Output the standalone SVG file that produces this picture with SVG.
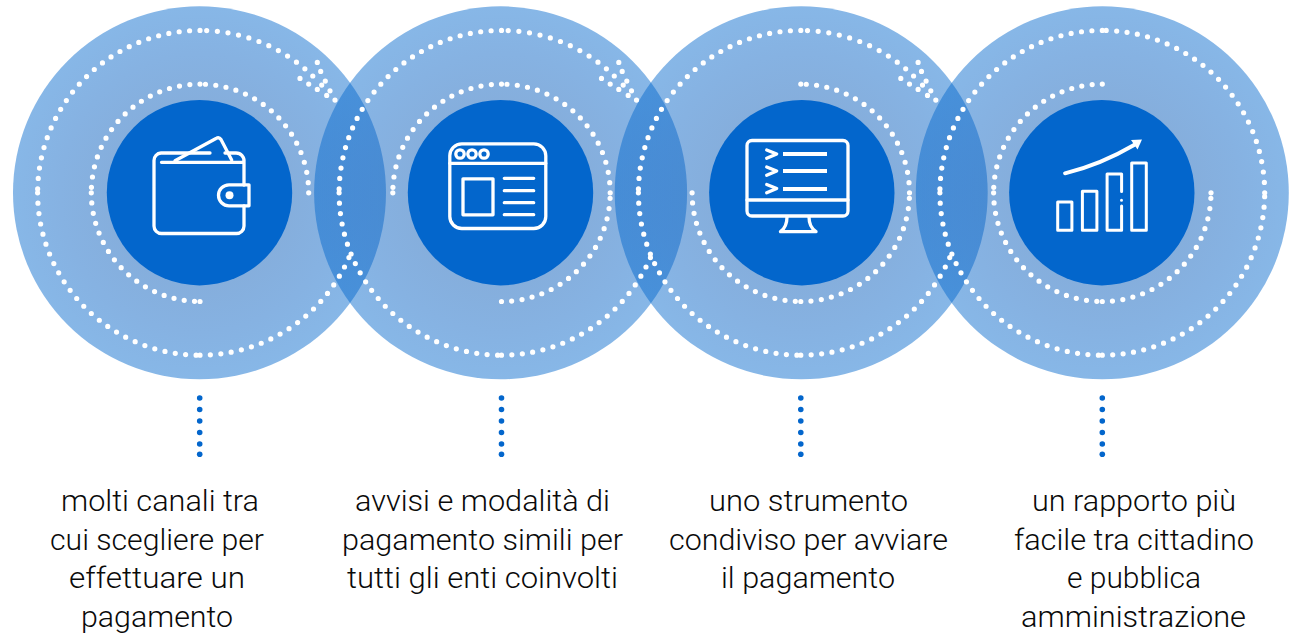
<svg xmlns="http://www.w3.org/2000/svg" xmlns:xlink="http://www.w3.org/1999/xlink" width="1297" height="635" viewBox="0 0 1297 635">
<style>
.halo{fill:url(#hg)}
.core{fill:#0366cc}
.od,.id,.bd{fill:none;stroke:#fff;stroke-width:5.2;stroke-linecap:round}
.od{stroke-dasharray:0 10.46}
.id{stroke-dasharray:0 10.31}
.td{stroke-dasharray:0 10.72}
.ic{fill:none;stroke:#fff;stroke-width:3.3;stroke-linecap:round;stroke-linejoin:round}
.vd{fill:none;stroke:#0366cc;stroke-width:5.6;stroke-linecap:round}
text{font-family:"Roboto","Noto Sans",sans-serif;font-size:30px;font-weight:300;fill:#0a0a0a}
</style>
<defs>
<radialGradient id="hg">
<stop offset="0.45" stop-color="#0b5cb8" stop-opacity="0.5"/>
<stop offset="0.75" stop-color="#0862c4" stop-opacity="0.49"/>
<stop offset="1" stop-color="#0066cc" stop-opacity="0.47"/>
</radialGradient>
<path id="o1" d="M0-162.4A162.4 162.4 0 0 0-162.4 0"/>
<path id="o2" d="M-162.4 0A162.4 162.4 0 0 0 0 162.4"/>
<path id="o3t" d="M0 162.4A162.4 162.4 0 0 0 149.5 63.5"/>
<path id="o3" d="M0 162.4A162.4 162.4 0 0 0 162.4 0"/>
<path id="o4" d="M162.4 0A162.4 162.4 0 0 0 0-162.4"/>
<path id="ot" d="M6.7-162.26A162.4 162.4 0 0 1 113.2-116.4"/>
<path id="bundle" d="M121.7-107.7h0M130-102h0M135-92.7h0M100-114.4h0M108.7-108.7h0M117.3-103.4h0M126.7-97.4h0M117.3-130.4h0M120.7-121.4h0M125.3-111.7h0"/>
<path id="i1" d="M0-108.7A108.7 108.7 0 0 0-108.7 0"/>
<path id="i2" d="M-108.7 0A108.7 108.7 0 0 0 0 108.7"/>
<path id="i3" d="M0 108.7A108.7 108.7 0 0 0 108.7 0"/>
<path id="i4" d="M108.7 0A108.7 108.7 0 0 0 0-108.7"/>
<g id="outerjoin">
<use href="#o1" class="od"/><use href="#o2" class="od"/><use href="#o3t" class="od"/>
<use href="#ot" class="od td"/><use href="#bundle" class="bd"/>
</g>
<g id="stem">
<path d="M0 0V47" class="vd" stroke-dasharray="0 11.5"/>
<path d="M0 56.3h0" class="vd"/>
</g>
</defs>

<g id="halos">
<circle class="halo" cx="199.5" cy="192.8" r="186.5"/>
<circle class="halo" cx="500.6" cy="192.8" r="186.5"/>
<circle class="halo" cx="801.2" cy="192.8" r="186.5"/>
<circle class="halo" cx="1102.3" cy="192.8" r="186.5"/>
</g>

<g id="connectors">
<use href="#stem" x="199.7" y="398"/>
<use href="#stem" x="501.5" y="398"/>
<use href="#stem" x="800.8" y="398"/>
<use href="#stem" x="1102.3" y="398"/>
</g>

<g id="node-1">
<g transform="translate(200 192.8)">
<use href="#outerjoin"/>
<use href="#i1" class="id"/><use href="#i2" class="id"/><use href="#i4" class="id"/>
<path class="bd" d="M0 108.7h0"/>
</g>
<circle class="core" cx="199.5" cy="192.7" r="92.7"/>
<g class="ic">
<path d="M161.5 162.3H242M244 185V162A8 8 0 0 0 236 153H225M210 153H161A7.500 7.500 0 0 0 154 160.500V226A7.500 7.500 0 0 0 161.500 233.500H236.500A7.500 7.500 0 0 0 244 226V206"/>
<path d="M175 160.700L216 138.500Q219 136.500 221 139.500L231.700 160"/>
<path d="M249 184.800H229A10.500 10.500 0 0 0 229 205.800H249Z"/>
</g>
<circle cx="229.500" cy="195.300" r="4" fill="#fff"/>
<text x="61" y="511" textLength="198" lengthAdjust="spacingAndGlyphs">molti canali tra</text>
<text x="50" y="550" textLength="214" lengthAdjust="spacingAndGlyphs">cui scegliere per</text>
<text x="69" y="588.300" textLength="176" lengthAdjust="spacingAndGlyphs">effettuare un</text>
<text x="81" y="627" textLength="152" lengthAdjust="spacingAndGlyphs">pagamento</text>
</g>

<g id="node-2">
<g transform="translate(501.500 192.800)">
<use href="#outerjoin"/>
<use href="#i1" class="id"/><use href="#i3" class="id"/><use href="#i4" class="id"/>
<path class="bd" d="M-108.700 0h0"/>
</g>
<circle class="core" cx="500.500" cy="192.700" r="92.700"/>
<g class="ic">
<rect x="449.800" y="143.800" width="96" height="84.700" rx="12"/>
<path d="M449.800 163.300H545.800M504.300 178.300H533.700M504.300 190.700H533.700M504.300 202.700H533.700M504.300 214.700H533.700"/>
<circle cx="460" cy="154" r="4.200"/><circle cx="472" cy="154" r="4.200"/><circle cx="484" cy="154" r="4.200"/>
<rect x="463" y="178.800" width="30" height="36"/>
</g>
<text x="355" y="511" textLength="255" lengthAdjust="spacingAndGlyphs">avvisi e modalità di</text>
<text x="342" y="550" textLength="281" lengthAdjust="spacingAndGlyphs">pagamento simili per</text>
<text x="347" y="588.300" textLength="271" lengthAdjust="spacingAndGlyphs">tutti gli enti coinvolti</text>
</g>

<g id="node-3">
<g transform="translate(800.800 192.800)">
<use href="#outerjoin"/>
<use href="#i2" class="id"/><use href="#i3" class="id"/><use href="#i4" class="id"/>
<path class="bd" d="M0-108.700h0"/>
</g>
<circle class="core" cx="801.800" cy="192.700" r="92.700"/>
<g class="ic">
<rect x="747" y="140.500" width="101" height="75.500" rx="5"/>
<path d="M747 200H848"/>
<path d="M787 217Q787 227 780.500 231.700H816Q809 227 809 217"/>
<path d="M766.700 150L776.700 154L766.700 158.300M766.700 167L776.700 171L766.700 175.300M766.700 184.500L776.700 188.500L766.700 192.800"/>
<path d="M783 154H827M783 171H827M783 189H827" stroke-width="4" stroke-linecap="butt"/>
</g>
<text x="709" y="511" textLength="199" lengthAdjust="spacingAndGlyphs">uno strumento</text>
<text x="669" y="550" textLength="279" lengthAdjust="spacingAndGlyphs">condiviso per avviare</text>
<text x="721" y="588.300" textLength="174" lengthAdjust="spacingAndGlyphs">il pagamento</text>
</g>

<g id="node-4">
<g transform="translate(1102.300 192.800)">
<use href="#o1" class="od"/><use href="#o2" class="od"/><use href="#o3" class="od"/><use href="#o4" class="od"/>
<use href="#i1" class="id"/><use href="#i2" class="id"/><use href="#i3" class="id"/>
<path class="bd" d="M108.700 0h0"/>
</g>
<circle class="core" cx="1101.800" cy="192.700" r="92.700"/>
<g class="ic" style="stroke-width:3">
<rect x="1057.700" y="202" width="14.200" height="28.300"/>
<rect x="1082.400" y="191.300" width="14.500" height="39"/>
<path d="M1121.600 191.500V174H1107.100V230.300H1121.600V206M1121.500 200.300h0"/>
<rect x="1131.700" y="163" width="14.600" height="67.300"/>
<path d="M1065 173.300Q1100 165 1135 144.500" style="stroke-width:3.800"/>
</g>
<path d="M1142 139.500L1131 140L1137.500 149.500Z" fill="#fff"/>
<text x="1032" y="511" textLength="204" lengthAdjust="spacingAndGlyphs">un rapporto più</text>
<text x="1014" y="550" textLength="240" lengthAdjust="spacingAndGlyphs">facile tra cittadino</text>
<text x="1067" y="588.300" textLength="134" lengthAdjust="spacingAndGlyphs">e pubblica</text>
<text x="1021" y="627" textLength="225" lengthAdjust="spacingAndGlyphs">amministrazione</text>
</g>
</svg>
